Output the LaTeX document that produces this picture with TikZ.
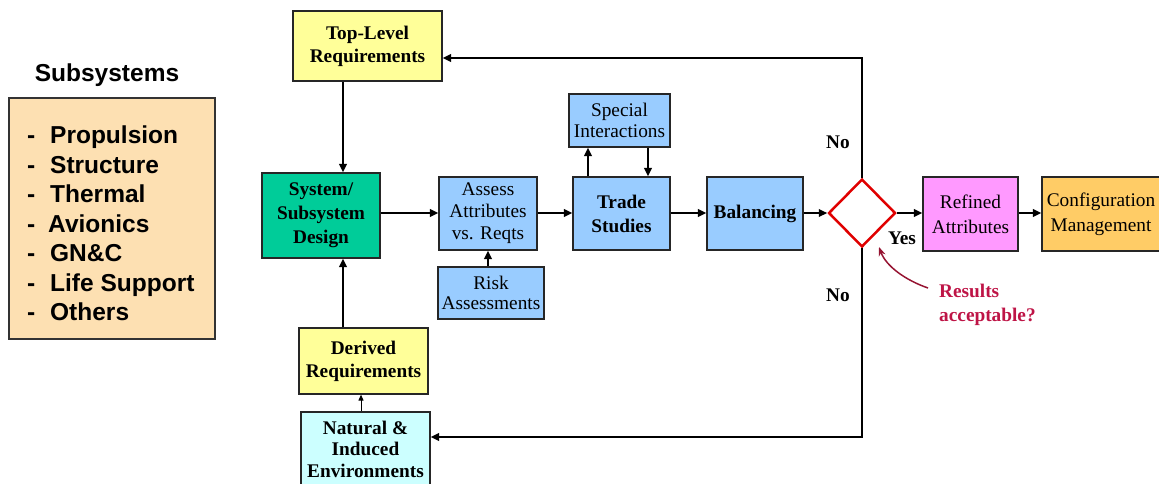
\documentclass[tikz,border=0pt]{standalone}
\usepackage{fontspec}
\setmainfont{Liberation Serif}
\newfontfamily\arialf{Liberation Sans}
\usetikzlibrary{arrows.meta,shapes.geometric}
\definecolor{yel}{HTML}{FFFF99}
\definecolor{cyanl}{HTML}{CCFFFF}
\definecolor{grn}{HTML}{00CC99}
\definecolor{blu}{HTML}{99CCFF}
\definecolor{pnk}{HTML}{FF99FF}
\definecolor{org}{HTML}{FFCC66}
\definecolor{peach}{HTML}{FDE0B2}
\definecolor{decred}{HTML}{E00000}
\definecolor{restxt}{RGB}{190,20,70}
\definecolor{resarr}{RGB}{150,20,50}
\begin{document}
\begin{tikzpicture}[x=1pt,y=-1pt,
  box/.style={draw=black!85, line width=1.2pt, inner sep=0pt, align=center,
    font=\fontsize{19.3}{22.5}\selectfont},
  bbox/.style={box, font=\fontsize{19.3}{23}\selectfont\bfseries},
  flow/.style={line width=2pt, -{Triangle[length=8.5pt,width=7.5pt]}},
  thinflow/.style={line width=1pt, -{Triangle[length=6pt,width=5pt]}},
  lbl/.style={font=\fontsize{19.3}{23.5}\selectfont\bfseries, inner sep=0pt}
]
\useasboundingbox (0,0) rectangle (1159,483);

% Subsystems panel
\node[font=\arialf\fontsize{24.5}{29.5}\selectfont\bfseries, inner sep=0pt] (subt) at (107,75) {Subsystems};
\node[draw=black!80, line width=1.2pt, fill=peach, minimum width=206pt, minimum height=241pt, inner sep=0pt] (subbox) at (112,218.5) {};
\node[font=\arialf\fontsize{24.5}{29.5}\selectfont\bfseries, align=left, inner sep=0pt, anchor=west] (sublist) at (27,223.5)
 {\makebox[23pt][l]{-}Propulsion\\
  \makebox[23pt][l]{-}Structure\\
  \makebox[23pt][l]{-}Thermal\\
  \makebox[21pt][l]{-}Avionics\\
  \makebox[23pt][l]{-}GN\&C\\
  \makebox[23pt][l]{-}Life Support\\
  \makebox[23pt][l]{-}Others};

% Main boxes
\node[bbox, fill=yel, minimum width=149pt, minimum height=70pt] (top) at (367.5,46) {Top-Level\\Requirements};
\node[bbox, fill=grn, minimum width=118pt, minimum height=85pt, font=\fontsize{19.3}{24}\selectfont\bfseries] (sys) at (321,215.5) {System/\\Subsystem\\Design};
\node[bbox, fill=yel, minimum width=129pt, minimum height=66pt] (der) at (363.5,361) {Derived\\Requirements};
\node[bbox, fill=cyanl, minimum width=129pt, minimum height=74pt, font=\fontsize{19.3}{21.5}\selectfont\bfseries] (nat) at (365.5,449) {Natural \&\\Induced\\Environments};
\node[box, fill=blu, minimum width=98pt, minimum height=73pt, font=\fontsize{19.3}{22}\selectfont] (ass) at (488,213.5) {Assess\\Attributes\\vs. Reqts};
\node[bbox, fill=blu, minimum width=97pt, minimum height=73pt, font=\fontsize{19.3}{24}\selectfont\bfseries] (trade) at (621.5,213.5) {Trade\\Studies};
\node[bbox, fill=blu, minimum width=96pt, minimum height=73pt] (bal) at (755,213.5) {Balancing};
\node[box, fill=blu, minimum width=101pt, minimum height=53pt, font=\fontsize{19.3}{21}\selectfont] (spec) at (619.5,120.5) {Special\\Interactions};
\node[box, fill=blu, minimum width=106pt, minimum height=52pt, font=\fontsize{19.3}{19.5}\selectfont] (risk) at (491,293) {Risk\\Assessments};
\node[box, fill=pnk, minimum width=95pt, minimum height=74pt, font=\fontsize{19.3}{25}\selectfont] (ref) at (970.5,214) {Refined\\Attributes};
\node[box, fill=org, minimum width=118pt, minimum height=74pt, font=\fontsize{19.3}{25}\selectfont] (conf) at (1101,214) {Configuration\\Management};

% Decision
\node[diamond, draw=decred, line width=2.5pt, fill=white, minimum width=67pt, minimum height=68pt, inner sep=0pt] (dec) at (862,213) {};

% Labels
\node[lbl] (no1) at (838,142) {No};
\node[lbl] (no2) at (838,295) {No};
\node[lbl] (yes) at (902,238) {Yes};
\node[lbl, text=restxt, align=left, anchor=west] (res) at (939,305) {Results\\acceptable?};

% Main flow (all on the line y = 213)
\coordinate (ym) at (0,213);
\draw[flow] (sys.east |- ym) -- (ass.west |- ym);
\draw[flow] (ass.east |- ym) -- (trade.west |- ym);
\draw[flow] (trade.east |- ym) -- (bal.west |- ym);
\draw[flow] (bal.east |- ym) -- (dec.west);
\draw[flow] (dec.east) -- (ref.west |- ym);
\draw[flow] (ref.east |- ym) -- (conf.west |- ym);

% Vertical links
\coordinate (xa) at (343,0);
\draw[flow] (xa |- top.south) -- (xa |- sys.north);
\draw[flow] (xa |- der.north) -- (xa |- sys.south);
\coordinate (xb) at (361,0);
\draw[thinflow] (xb |- nat.north) -- (xb |- der.south);
\draw[flow] (risk.north -| ass.south) -- (ass.south);
\coordinate (xs1) at (588,0);
\coordinate (xs2) at (648,0);
\draw[flow] (xs1 |- trade.north) -- (xs1 |- spec.south);
\draw[flow] (xs2 |- spec.south) -- (xs2 |- trade.north);

% Feedback loops
\coordinate (fbT) at (862,58);
\coordinate (fbB) at (862,437);
\draw[flow] (dec.north) -- (fbT) -- (fbT -| top.east);
\draw[flow] (dec.south) -- (fbB) -- (fbB -| nat.east);

% Results pointer
\coordinate (rs) at (928,288);
\coordinate (rt) at (879,247);
\draw[resarr, line width=1.5pt, -{Stealth[length=9pt,width=7pt]}] (rs) .. controls (905,280) and (886,266) .. (rt);
\end{tikzpicture}
\end{document}
